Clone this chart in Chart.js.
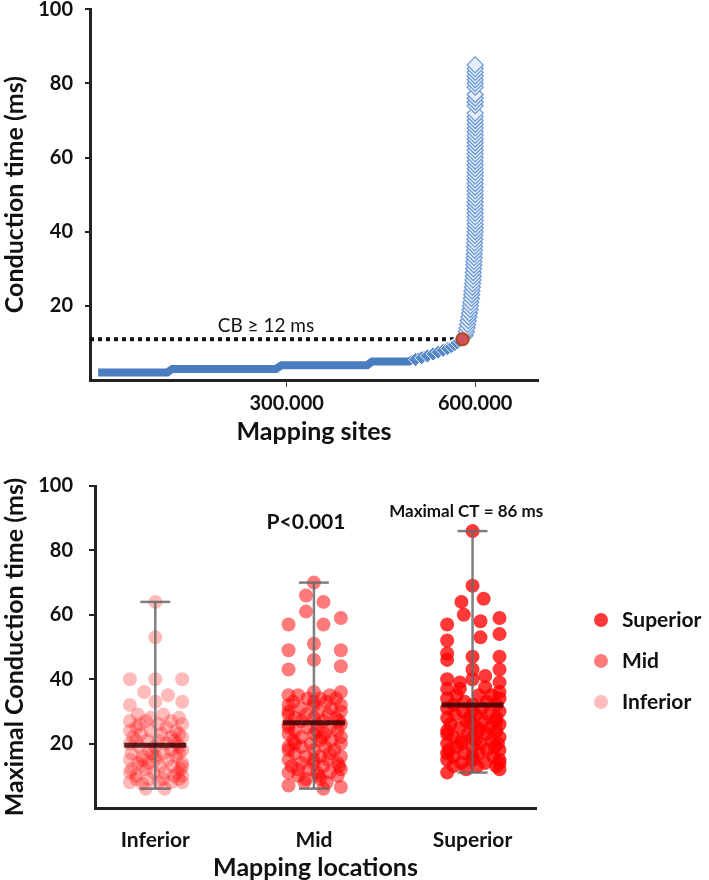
<!DOCTYPE html>
<html>
<head>
<meta charset="utf-8">
<script src="https://cdn.jsdelivr.net/npm/chart.js@4.4.0/dist/chart.umd.min.js"></script>
<style>
  body { margin: 0; background: #fff; }
  canvas { display: block; }
</style>
</head>
<body>
<canvas id="sitesChart" width="709" height="450"></canvas>
<canvas id="locationsChart" width="709" height="430"></canvas>
<script>
// ---- top panel: sorted conduction time of all mapping sites ----
const bandSites = [0, 110000, 118000, 283000, 292000, 428000, 436000, 495000, 505000, 528000, 546000, 560000, 571000, 579000];
const bandCT = [2, 2, 3, 3, 4, 4, 5, 5, 6, 7, 8, 9, 10, 11];

const bendSites = [505000, 515000, 524000, 533000, 541000, 549000, 556000, 562000, 567000, 571000, 575000, 578000];
const bendCT = [5.5, 6, 6.5, 7, 7.5, 8, 8.5, 9, 9.5, 10, 10.5, 11];

const riseCT = [12, 13, 14, 15, 16, 17, 18, 19, 20, 21, 22, 23, 24, 25, 26, 27, 28, 29, 30,
  31, 32, 33, 34, 35, 36, 37, 38, 39,
  40, 41, 42, 43, 44, 45, 46, 47, 48, 49, 50, 51, 52, 53, 54, 55, 56, 57, 58, 59, 60, 61, 62, 63, 64, 65,
  66, 67, 68, 69, 70, 71, 72, 74, 75, 76, 77, 79, 80, 81, 82, 83, 84, 85];
const riseSites = [584000, 586000, 587000, 588000, 589000, 590000, 591000,
  592000, 592500, 593000, 594000, 594500, 595000, 595500, 596000, 596500, 597000, 597000, 597500,
  598000, 598000, 598500, 598500, 599000, 599000, 599000, 599500, 599500,
  600000, 600000, 600000, 600000, 600000, 600000, 600000, 600000, 600000, 600000, 600000, 600000, 600000,
  600000, 600000, 600000, 600000, 600000, 600000, 600000, 600000, 600000, 600000, 600000, 600000, 600000,
  600000, 600000, 600000, 600000, 600000, 600000, 600000, 600000, 600000, 600000, 600000, 600000, 600000,
  600000, 600000, 600000, 600000, 600000];

const thresholdSites = [-13000, 576000];
const thresholdCT = [11, 11];
const cbSite = [580000];
const cbCT = [11];
const siteTicks = [300000, 600000];
const ctTicks = [20, 40, 60, 80, 100];

// ---- bottom panel: maximal conduction time per location ----
const locations = ['Inferior', 'Mid', 'Superior'];
const ctMin = [6, 6, 11];
const ctMedian = [19.5, 26.5, 32];
const ctMax = [64, 70, 86];

const infCT = [64, 53, 40, 40, 40, 36, 35, 33, 32, 33, 29, 29, 28, 28, 27, 27, 27, 26, 26, 25, 25, 24, 24, 24,
  23, 23, 22, 22, 22, 21, 21, 20, 20, 20, 19, 19, 18, 18, 18, 17, 17, 16, 16, 16, 15, 15, 14, 14, 14, 13, 13,
  12, 12, 12, 11, 11, 10, 10, 10, 9, 9, 8, 8, 7.5, 6, 6,
  26, 23, 21, 21, 19, 17, 17, 15, 15, 13, 13, 11, 11, 9, 9, 8, 8];
const infJitter = [0, 0, -0.16, 0, 0.17, -0.07, 0.08, 0, -0.16, 0.17, -0.11, 0.05, 0.15, -0.03, -0.16, -0.06, 0.1,
  0.02, 0.17, -0.12, 0.07, -0.03, 0.13, -0.16, -0.09, 0.04, 0.17, -0.14, 0.1, -0.05, 0.02, -0.16, 0.14, 0.07,
  -0.1, 0, 0.17, -0.04, 0.1, -0.15, 0.05, -0.08, 0.13, 0, -0.16, 0.08, 0.17, -0.04, -0.11, 0.03, 0.11,
  -0.15, -0.06, 0.16, 0.06, -0.01, -0.12, 0.12, 0.17, -0.04, 0.05, -0.16, 0.17, -0.08, -0.06, 0.06,
  -0.1, 0.15, -0.12, 0.12, 0.15, -0.02, 0.15, 0, -0.08, -0.08, 0.17, -0.16, 0.14, -0.12, 0.15, 0.02, 0.1];

const midCT = [70, 66, 64, 61, 59, 57, 57, 51, 49, 49, 46, 44, 43,
  36, 36, 35, 35, 35, 34, 34, 34, 33, 33, 32, 32, 32, 31, 31, 30, 30, 30, 29, 29, 28, 28, 28, 27, 27,
  26, 26, 26, 25, 25, 24, 24, 23, 23, 23, 22, 22, 21, 21, 21, 20, 20, 19, 19, 19, 18, 18, 17, 17,
  16, 16, 16, 15, 15, 14, 14, 14, 13, 13, 12, 12, 11, 11, 11, 10, 10, 9, 9, 8, 8, 7, 6.5, 6,
  33, 29, 27, 25, 22, 20, 18, 15, 13, 10, 12, 24];
const midJitter = [0, -0.05, 0.06, -0.05, 0.17, -0.16, 0.06, 0, -0.16, 0.17, 0, 0.17, -0.16,
  0, 0.17, -0.16, -0.1, 0.1, -0.04, 0.04, 0.14, -0.13, 0.08, 0, 0.17, -0.16, -0.08, 0.11, 0.03, -0.16, 0.17,
  -0.05, 0.09, -0.12, 0.14, 0, 0.06, -0.08, -0.16, 0.17, 0.02, -0.04, 0.1, -0.12, 0.15, 0, 0.07, -0.16,
  -0.08, 0.17, 0.04, -0.13, 0.11, -0.02, 0.17, -0.16, 0.07, -0.08, 0.13, 0, -0.12, 0.1,
  -0.05, 0.17, 0.04, -0.16, 0.09, 0, -0.08, 0.15, 0.06, -0.14, -0.03, 0.17, -0.16, 0.1, 0.02, -0.1, 0.15,
  0.04, -0.05, -0.06, 0.08, -0.16, 0.17, 0.06,
  0, -0.16, 0.16, -0.16, 0.05, -0.12, -0.16, 0, 0.16, 0.03, -0.1, 0.02];

const supCT = [86, 69, 64, 65, 60, 57, 58, 59, 54, 53, 52, 48, 46, 47, 47, 43, 43, 40, 39, 41, 39, 37, 37, 40, 36, 37.5,
  35, 35, 35, 34, 34, 33, 33, 32, 32, 32, 31, 31, 30, 30, 29, 29, 29, 28, 28, 27, 27, 26, 26, 26, 25, 25,
  24, 24, 24, 23, 23, 22, 22, 22, 21, 21, 20, 20, 20, 19, 19, 18, 18, 18, 17, 17, 16, 16, 15, 15, 15,
  14, 14, 13, 13, 12, 12, 11,
  30, 28, 25, 23, 21, 19, 17, 16, 14, 13, 20, 27];
const supJitter = [0, 0, -0.07, 0.07, -0.055, -0.16, 0.05, 0.17, 0.17, 0.05, -0.16, -0.16, -0.16, 0.17, 0, 0.17, 0,
  -0.16, -0.08, 0.08, 0.17, -0.16, -0.08, 0, 0.17, 0.08,
  -0.1, 0.04, 0.12, -0.16, 0.17, -0.05, 0.09, -0.12, 0, 0.15, -0.16, 0.06, 0.17, -0.06, -0.11, 0.1, 0.02,
  -0.16, 0.15, -0.04, 0.07, -0.14, 0.17, 0, -0.08, 0.11, -0.16, 0.04, 0.15, -0.03, 0.09, -0.12, 0.17, 0,
  -0.07, 0.12, -0.16, 0.05, 0.16, -0.1, 0, 0.09, -0.15, 0.17, -0.05, 0.04, -0.12, 0.13, -0.16, 0, 0.17,
  -0.07, 0.08, -0.12, 0.15, 0.17, -0.04, -0.16,
  0, -0.02, 0.03, -0.16, 0.02, 0.14, -0.16, 0, 0.17, 0.03, -0.07, 0.15];

const FONT = 'Lato, "Noto Sans", "DejaVu Sans", sans-serif';
Chart.defaults.font.family = FONT;
Chart.defaults.color = '#111';

const pts = (xs, ys) => xs.map((x, i) => ({x: x, y: ys[i]}));

// text placed in data units through the chart's scales
const textLabels = {
  id: 'textLabels',
  afterDatasetsDraw(chart) {
    const items = chart.config.options.labelsToDraw || [];
    const {ctx, scales} = chart;
    ctx.save();
    ctx.textAlign = 'center';
    ctx.textBaseline = 'middle';
    ctx.fillStyle = '#111';
    items.forEach(it => {
      ctx.font = it.font;
      ctx.fillText(it.text, scales.x.getPixelForValue(it.x), scales.y.getPixelForValue(it.y));
    });
    ctx.restore();
  }
};

const sitesChart = new Chart(document.getElementById('sitesChart'), {
  type: 'scatter',
  data: {
    datasets: [
      {
        data: pts(cbSite, cbCT),
        pointRadius: 6,
        pointBackgroundColor: '#d4505a',
        pointBorderColor: '#b4481d',
        pointBorderWidth: 2,
        order: 0
      },
      {
        data: pts(riseSites, riseCT),
        pointStyle: 'rectRot',
        pointRadius: 8,
        pointBackgroundColor: '#e6eef9',
        pointBorderColor: '#6d9ad5',
        pointBorderWidth: 1.3,
        order: 1
      },
      {
        data: pts(bendSites, bendCT),
        pointStyle: 'rectRot',
        pointRadius: 7,
        pointBackgroundColor: '#5687c6',
        pointBorderColor: 'rgba(255, 255, 255, 0.85)',
        pointBorderWidth: 1,
        order: 1.5
      },
      {
        data: pts(bandSites, bandCT),
        showLine: true,
        borderColor: '#4a7dc0',
        borderWidth: 8,
        pointRadius: 0,
        order: 2
      },
      {
        data: pts(thresholdSites, thresholdCT),
        showLine: true,
        borderColor: '#111',
        borderWidth: 4,
        borderDash: [4, 4],
        pointRadius: 0,
        order: 3
      }
    ]
  },
  options: {
    responsive: false,
    animation: false,
    events: [],
    layout: {padding: {left: 0, right: 171, top: 0, bottom: 6}},
    labelsToDraw: [{text: 'CB \u2265 12 ms', x: 267000, y: 14.5, font: '19px ' + FONT}],
    plugins: {legend: {display: false}, tooltip: {enabled: false}},
    scales: {
      x: {
        type: 'linear',
        min: -13000,
        max: 700000,
        afterBuildTicks: s => { s.ticks = siteTicks.map(v => ({value: v})); },
        afterFit: s => { s.height = 64; },
        ticks: {
          callback: v => v.toLocaleString('de-DE'),
          font: {size: 20, weight: 'bold', lineHeight: 1},
          padding: 7,
          maxRotation: 0,
          autoSkip: false
        },
        grid: {drawOnChartArea: false, tickLength: 7, color: '#444', lineWidth: 1},
        border: {color: '#222', width: 3},
        title: {display: true, text: 'Mapping sites', font: {size: 25, weight: 'bold', lineHeight: 1}, padding: 0}
      },
      y: {
        min: 0,
        max: 100,
        afterBuildTicks: s => { s.ticks = ctTicks.map(v => ({value: v})); },
        afterFit: s => { s.width = 90; s.paddingTop = 8; s.paddingBottom = 0; },
        ticks: {font: {size: 20, weight: 'bold', lineHeight: 1}, padding: 12},
        grid: {drawOnChartArea: false, tickLength: 5, color: '#222', lineWidth: 2},
        border: {color: '#222', width: 3},
        title: {display: true, text: 'Conduction time (ms)', font: {size: 25, weight: 'bold', lineHeight: 1}, padding: {top: 2, bottom: 0}}
      }
    }
  },
  plugins: [textLabels]
});

// ---- bottom chart ----
const groups = [
  {name: 'Superior', ct: supCT, jitter: supJitter, pos: 3, color: 'rgba(255, 0, 0, 0.78)'},
  {name: 'Mid', ct: midCT, jitter: midJitter, pos: 2, color: 'rgba(255, 0, 0, 0.52)'},
  {name: 'Inferior', ct: infCT, jitter: infJitter, pos: 1, color: 'rgba(255, 0, 0, 0.27)'}
];

const dotSets = groups.map(g => ({
  label: g.name,
  data: g.ct.map((v, i) => ({x: g.pos + g.jitter[i], y: v})),
  pointRadius: 7,
  pointBackgroundColor: g.color,
  pointBorderWidth: 0,
  order: 3
}));

const whiskerColor = 'rgba(105, 105, 105, 0.85)';
const whiskerSets = locations.map((name, i) => ({
  data: [{x: i + 1, y: ctMin[i]}, {x: i + 1, y: ctMax[i]}],
  showLine: true,
  borderColor: whiskerColor,
  borderWidth: 2.5,
  pointStyle: 'line',
  pointRadius: 15,
  pointBorderColor: whiskerColor,
  pointBorderWidth: 2.5,
  order: 2
}));

const medianSet = {
  data: locations.map((name, i) => ({x: i + 1, y: ctMedian[i]})),
  pointStyle: 'line',
  pointRadius: 31,
  pointBorderColor: 'rgba(55, 0, 0, 0.82)',
  pointBorderWidth: 5,
  order: 1
};

const dotLegend = {
  id: 'dotLegend',
  afterDraw(chart) {
    const {ctx, chartArea} = chart;
    ctx.save();
    ctx.textBaseline = 'middle';
    ctx.font = 'bold 21px ' + FONT;
    groups.forEach((g, i) => {
      const y = chartArea.top + 134 + i * 41;
      ctx.fillStyle = g.color;
      ctx.beginPath();
      ctx.arc(chartArea.right + 65, y, 7, 0, Math.PI * 2);
      ctx.fill();
      ctx.fillStyle = '#111';
      ctx.fillText(g.name, chartArea.right + 86, y);
    });
    ctx.restore();
  }
};

const locationsChart = new Chart(document.getElementById('locationsChart'), {
  type: 'scatter',
  data: {datasets: [medianSet, ...whiskerSets, ...dotSets]},
  options: {
    responsive: false,
    animation: false,
    events: [],
    layout: {padding: {left: 0, right: 173, top: 33, bottom: 0}},
    labelsToDraw: [
      {text: 'P<0.001', x: 1.95, y: 88.6, font: 'bold 21px ' + FONT},
      {text: 'Maximal CT = 86 ms', x: 2.96, y: 92, font: 'bold 17px ' + FONT}
    ],
    plugins: {legend: {display: false}, tooltip: {enabled: false}},
    scales: {
      x: {
        type: 'linear',
        min: 0.62,
        max: 3.4,
        afterBuildTicks: s => { s.ticks = locations.map((n, i) => ({value: i + 1})); },
        afterFit: s => { s.height = 72; },
        ticks: {
          callback: v => locations[Math.round(v) - 1],
          font: {size: 21, weight: 'bold', lineHeight: 1},
          padding: 22,
          maxRotation: 0,
          autoSkip: false
        },
        grid: {drawOnChartArea: false, drawTicks: false},
        border: {color: '#222', width: 3},
        title: {display: true, text: 'Mapping locations', font: {size: 25, weight: 'bold', lineHeight: 0.8}, padding: {top: 0, bottom: 2}}
      },
      y: {
        min: 0,
        max: 100,
        afterBuildTicks: s => { s.ticks = ctTicks.map(v => ({value: v})); },
        afterFit: s => { s.width = 95; s.paddingTop = 0; s.paddingBottom = 0; },
        ticks: {font: {size: 20, weight: 'bold', lineHeight: 1}, padding: 16},
        grid: {drawOnChartArea: false, tickLength: 6, color: '#222', lineWidth: 2},
        border: {color: '#222', width: 3},
        title: {display: true, text: 'Maximal Conduction time (ms)', font: {size: 25, weight: 'bold', lineHeight: 1}, padding: {top: 2, bottom: 0}}
      }
    }
  },
  plugins: [textLabels, dotLegend]
});
</script>
</body>
</html>
